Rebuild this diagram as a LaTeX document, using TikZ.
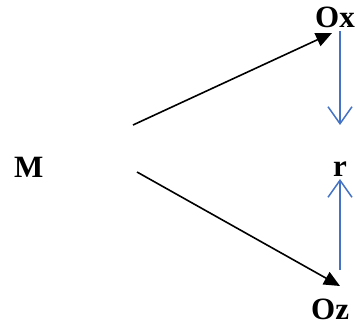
\documentclass[tikz,border=0pt]{standalone}
\usepackage{fontspec}
\setmainfont{Liberation Serif}
\usetikzlibrary{arrows.meta}
\definecolor{officeblue}{RGB}{68,114,196}
\begin{document}
\begin{tikzpicture}[x=1pt,y=-1pt,
  lbl/.style={inner sep=0pt,anchor=base west,font=\fontsize{31}{34}\selectfont\bfseries},
  blk/.style={line width=1.6pt,-{Triangle[length=16pt,width=14pt]}},
  blu/.style={officeblue,line width=1.5pt,-{Straight Barb[length=17pt,width=24pt,line width=1.5pt]}}]
\useasboundingbox (0,0) rectangle (356,326);
\node[lbl] (M) at (14,177) {M};
\node[lbl] (Ox) at (315,28) {Ox};
\node[lbl] (r) at (333,176) {r};
\node[lbl] (Oz) at (311,319) {Oz};
\coordinate (a1) at (133,125);
\coordinate (a2) at (332,33);
\coordinate (b1) at (137,172);
\coordinate (b2) at (340,286);
\coordinate (c1) at (340,31);
\coordinate (c2) at (340,125);
\coordinate (d1) at (340,270);
\coordinate (d2) at (340,179);
\draw[blk] (a1) -- (a2);
\draw[blk] (b1) -- (b2);
\draw[blu] (c1) -- (c2);
\draw[blu] (d1) -- (d2);
\end{tikzpicture}
\end{document}
